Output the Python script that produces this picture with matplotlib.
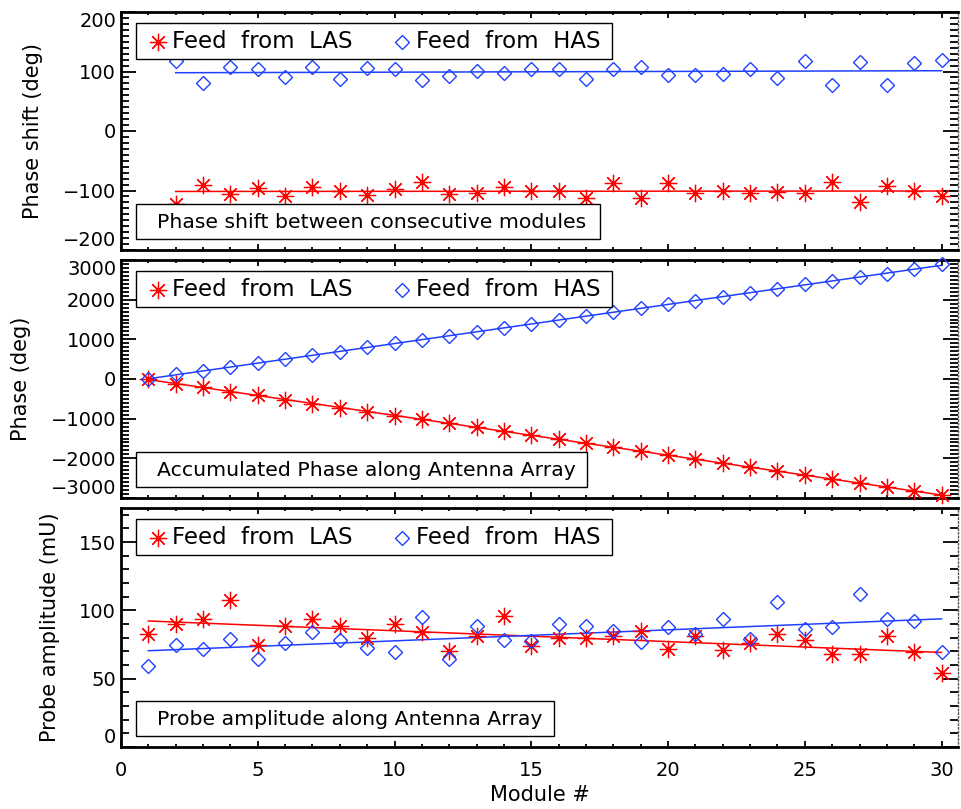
import numpy as np
import matplotlib.pyplot as plt
from matplotlib.patches import Rectangle
from matplotlib.ticker import MultipleLocator

plt.rcParams['font.family'] = ['DejaVu Sans']

W, H = 961, 809

modules = list(range(1, 31))

# phase shift between consecutive modules (modules 2..30)
shift_las = [-122, -91, -106, -96, -110, -94, -101, -108, -97, -85, -106, -104, -94, -100,
             -100, -112, -87, -113, -87, -104, -100, -105, -102, -104, -85, -120, -92, -101, -110]
shift_has = [117, 80, 107, 104, 90, 108, 87, 106, 104, 86, 93, 101, 98, 104,
             104, 87, 104, 108, 94, 94, 96, 105, 89, 118, 78, 116, 77, 115, 119]

# accumulated phase (modules 1..30)
phase_las = [0, -122, -213, -319, -415, -525, -619, -720, -828, -925, -1010, -1116, -1220, -1314, -1414,
             -1514, -1626, -1713, -1826, -1913, -2017, -2117, -2222, -2324, -2428, -2513, -2633, -2725, -2826, -2936]
phase_has = [0, 117, 197, 304, 408, 498, 606, 693, 799, 903, 989, 1082, 1183, 1281, 1385,
             1489, 1576, 1680, 1788, 1882, 1976, 2072, 2177, 2266, 2384, 2462, 2578, 2655, 2770, 2889]

# probe amplitude (modules 1..30)
amp_las = [83, 90, 93.5, 108, 74.4, 88.4, 93.5, 88.6, 80, 89.8, 84.2, 70.3, 81, 95.7, 74,
           80, 80, 81, 85, 72, 81, 71, 76, 83, 78, 68, 68, 81, 69.5, 54.5]
amp_has = [59.3, 74.4, 71.5, 79.3, 64.2, 76.4, 84.2, 78, 72.5, 69.5, 95.2, 64.7, 88.4, 78.6, 77.6,
           89.8, 88.6, 85, 76.9, 87.9, 82.5, 94, 78.8, 106, 86.2, 87.9, 112.3, 93.5, 92.2, 69.5]

RED = '#ff0000'
BLUE = '#2040ff'
ASTER = (8, 2, 0)
AST_MS, AST_MEW = 12.5, 0.9
DIA_MS, DIA_MEW = 7.5, 1.0

fig = plt.figure(figsize=(W / 100, H / 100), dpi=100)


def px_axes(x0, y0, x1, y1):
    return fig.add_axes([x0 / W, 1 - y1 / H, (x1 - x0) / W, (y1 - y0) / H])


def fig_box(x0, y0, x1, y1):
    fig.add_artist(Rectangle((x0 / W, 1 - y1 / H), (x1 - x0) / W, (y1 - y0) / H,
                             transform=fig.transFigure, fc='white', ec='black', lw=1.0, zorder=5))


def fig_text(x, y, s, size):
    fig.text(x / W, 1 - y / H, s, fontsize=size, ha='left', va='center', zorder=6)


def legend_box(top):
    y0, y1 = top + 11, top + 47
    yc = (y0 + y1) / 2 + 1
    fig_box(136, y0, 612, y1)
    fig.add_artist(plt.Line2D([158 / W], [1 - yc / H], marker=ASTER, color=RED, ms=AST_MS, mew=AST_MEW,
                              transform=fig.transFigure, zorder=6))
    fig_text(172, yc, 'Feed  from  LAS', 16.5)
    fig.add_artist(plt.Line2D([402 / W], [1 - yc / H], marker='D', mfc='none', mec=BLUE, ms=DIA_MS,
                              mew=DIA_MEW, transform=fig.transFigure, zorder=6))
    fig_text(416, yc, 'Feed  from  HAS', 16.5)


def note_box(bottom, right, s):
    y0, y1 = bottom - 46, bottom - 11
    fig_box(136, y0, right, y1)
    fig_text(157, (y0 + y1) / 2 + 1, s, 14.7)


def style(ax, ymin, ymax, ymaj, ymin_step):
    ax.set_xlim(0, 30.6)
    ax.set_ylim(ymin, ymax)
    ax.xaxis.set_major_locator(MultipleLocator(5))
    ax.xaxis.set_minor_locator(MultipleLocator(1))
    ax.yaxis.set_major_locator(MultipleLocator(ymaj))
    ax.yaxis.set_minor_locator(MultipleLocator(ymin_step))
    ax.tick_params(which='both', direction='in', top=True, right=True, labelsize=14, width=1.3)
    ax.tick_params(axis='y', which='major', length=11)
    ax.tick_params(axis='y', which='minor', length=5.5)
    ax.tick_params(axis='x', which='major', length=4)
    ax.tick_params(axis='x', which='minor', length=2)
    for side in ['left', 'bottom', 'top']:
        ax.spines[side].set_linewidth(2)
    ax.spines['right'].set_linewidth(1)
    ax.spines['right'].set_linestyle(':')
    ax.spines['right'].set_color('#555555')


def pull_in_end_labels(ax):
    fig.canvas.draw()
    lo, hi = ax.get_ylim()
    for tick in ax.yaxis.get_major_ticks():
        v = tick.get_loc()
        if np.isclose(v, hi):
            tick.label1.set_va('top')
        if np.isclose(v, lo):
            tick.label1.set_va('bottom')


def series(ax, x, y, color, marker, filled):
    if filled:
        ax.plot(x, y, ls='none', marker=marker, color=color, ms=AST_MS, mew=AST_MEW, clip_on=False, zorder=3)
    else:
        ax.plot(x, y, ls='none', marker=marker, mfc='none', mec=color, ms=DIA_MS, mew=DIA_MEW,
                clip_on=False, zorder=3)
    k, b = np.polyfit(x, y, 1)
    xs = np.array([x[0], x[-1]])
    ax.plot(xs, k * xs + b, color=color, lw=1.1, zorder=2)


# panel 1
ax1 = px_axes(121, 12, 958, 250)
series(ax1, modules[1:], shift_las, RED, ASTER, True)
series(ax1, modules[1:], shift_has, BLUE, 'D', False)
style(ax1, -200, 200, 100, 10)
ax1.set_xticklabels([])
ax1.set_ylabel('Phase shift (deg)', fontsize=15, labelpad=14)
legend_box(12)
note_box(250, 600, 'Phase shift between consecutive modules')

# panel 2
ax2 = px_axes(121, 260, 958, 498)
series(ax2, modules, phase_las, RED, ASTER, True)
series(ax2, modules, phase_has, BLUE, 'D', False)
style(ax2, -3000, 3000, 1000, 100)
ax2.set_xticklabels([])
ax2.set_ylabel('Phase (deg)', fontsize=15, labelpad=14)
legend_box(260)
note_box(498, 587, 'Accumulated Phase along Antenna Array')

# panel 3
ax3 = px_axes(121, 508, 958, 747)
series(ax3, modules, amp_las, RED, ASTER, True)
series(ax3, modules, amp_has, BLUE, 'D', False)
style(ax3, 0, 175, 50, 10)
ax3.set_ylabel('Probe amplitude (mU)', fontsize=15, labelpad=14)
ax3.set_xlabel('Module #', fontsize=15, labelpad=4)
ax3.tick_params(axis='x', pad=10)
legend_box(508)
note_box(747, 554, 'Probe amplitude along Antenna Array')

pull_in_end_labels(ax1)
pull_in_end_labels(ax2)
pull_in_end_labels(ax3)

fig.savefig('out.png', dpi=100)
